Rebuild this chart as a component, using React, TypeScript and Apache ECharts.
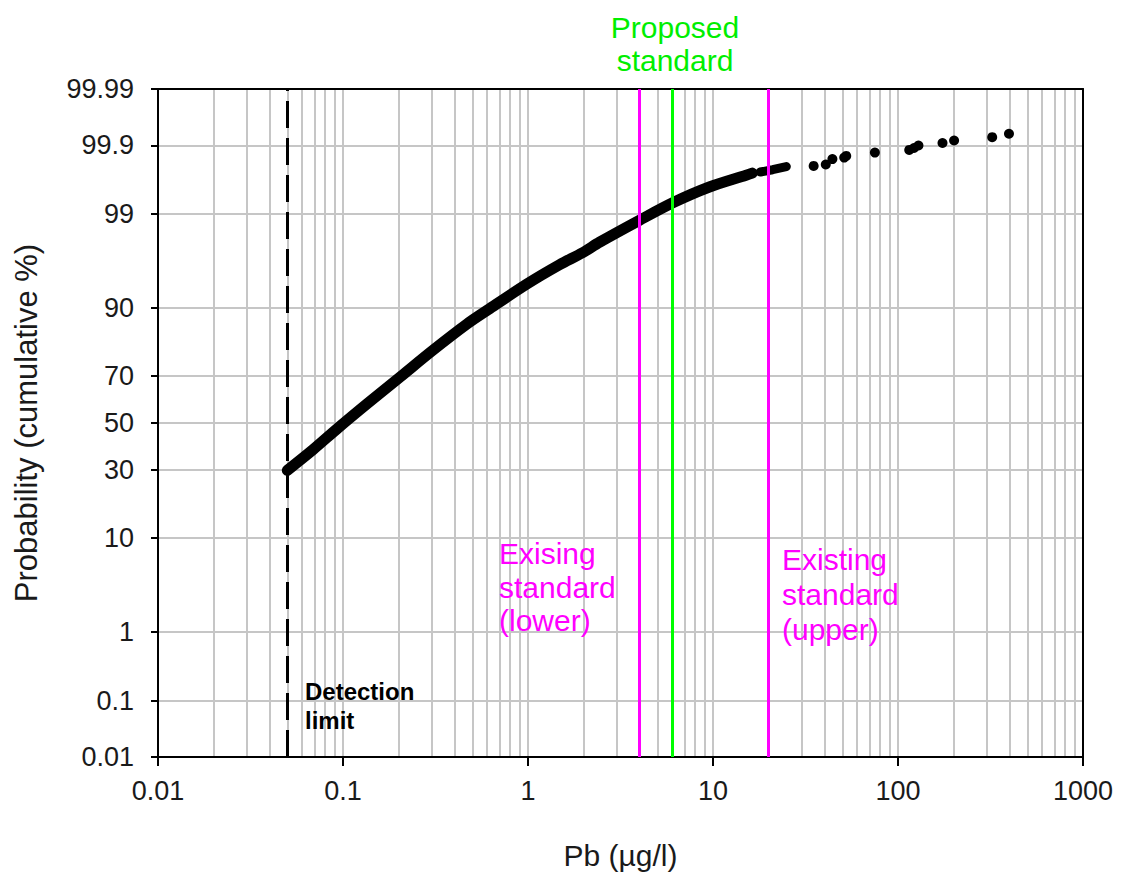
import React, { useEffect, useRef } from "react";
import * as echarts from "echarts";

// Dense part of the cumulative distribution: Pb (µg/l) vs cumulative probability (%)
const curvePb = [0.05, 0.069, 0.094, 0.135, 0.206, 0.306, 0.467, 0.606, 0.984, 1.48, 1.97, 2.44, 4.0, 6.06, 9.56, 15.1, 16.3];
const curveProb = [29.9, 38.4, 47.8, 58.5, 69.9, 79.1, 86.45, 89.6, 93.9, 96.1, 97.1, 97.8, 98.8, 99.29, 99.57, 99.71, 99.73];
// short dense run just after the gap
const curve2Pb = [18.0, 21.0, 24.9];
const curve2Prob = [99.74, 99.76, 99.785];
// sparse high values
const tailPb = [35, 40.7, 44.2, 51.2, 52.5, 75, 115, 122, 129, 174, 201, 323, 398];
const tailProb = [99.79, 99.8, 99.835, 99.844, 99.853, 99.87, 99.882, 99.89, 99.9, 99.909, 99.917, 99.927, 99.936];

// axes
const xMin = 0.01;
const xMax = 1000;
const xTickLabels = [0.01, 0.1, 1, 10, 100, 1000];
const xGridDecades = [0.01, 0.1, 1, 10, 100];
const xGridMultiples = [1, 2, 3, 4, 5, 6, 7, 8, 9];
const yTickLabels = [0.01, 0.1, 1, 10, 30, 50, 70, 90, 99, 99.9, 99.99];

// reference lines
const detectionLimit = 0.05;
const lowerStandard = 4;
const proposedStandard = 6;
const upperStandard = 20;

const FONT = "'Liberation Sans', Arial, sans-serif";

// inverse of the standard normal CDF (probability-paper scale)
function probit(p: number): number {
  const a = [-3.969683028665376e1, 2.209460984245205e2, -2.759285104469687e2, 1.38357751867269e2, -3.066479806614716e1, 2.506628277459239];
  const b = [-5.447609879822406e1, 1.615858368580409e2, -1.556989798598866e2, 6.680131188771972e1, -1.328068155288572e1];
  const c = [-7.784894002430293e-3, -3.223964580411365e-1, -2.400758277161838, -2.549732539343734, 4.374664141464968, 2.938163982698783];
  const d = [7.784695709041462e-3, 3.224671290700398e-1, 2.445134137142996, 3.754408661907416];
  const pl = 0.02425;
  const ph = 1 - pl;
  let q: number;
  let r: number;
  if (p < pl) {
    q = Math.sqrt(-2 * Math.log(p));
    return (((((c[0] * q + c[1]) * q + c[2]) * q + c[3]) * q + c[4]) * q + c[5]) / ((((d[0] * q + d[1]) * q + d[2]) * q + d[3]) * q + 1);
  }
  if (p <= ph) {
    q = p - 0.5;
    r = q * q;
    return ((((((a[0] * r + a[1]) * r + a[2]) * r + a[3]) * r + a[4]) * r + a[5]) * q) / (((((b[0] * r + b[1]) * r + b[2]) * r + b[3]) * r + b[4]) * r + 1);
  }
  q = Math.sqrt(-2 * Math.log(1 - p));
  return -(((((c[0] * q + c[1]) * q + c[2]) * q + c[3]) * q + c[4]) * q + c[5]) / ((((d[0] * q + d[1]) * q + d[2]) * q + d[3]) * q + 1);
}

const z = (pct: number) => probit(pct / 100);

export default function App() {
  const ref = useRef<HTMLDivElement>(null);

  useEffect(() => {
    if (!ref.current) return;
    const chart = echarts.init(ref.current, undefined, { renderer: "svg" });

    const yMin = z(yTickLabels[0]) - 1e-9;
    const yMax = z(yTickLabels[yTickLabels.length - 1]) + 1e-9;
    const yTickZ = yTickLabels.map(z);
    const yGridZ = yTickLabels.slice(1, -1).map(z);
    const xGrid: number[] = [];
    xGridDecades.forEach((dec) =>
      xGridMultiples.forEach((m) => {
        const v = Number((dec * m).toPrecision(6));
        if (v > xMin && v < xMax) xGrid.push(v);
      })
    );

    const yLabel = (v: number) => {
      let best = "";
      let bd = Infinity;
      yTickLabels.forEach((l) => {
        const dd = Math.abs(z(l) - v);
        if (dd < bd) {
          bd = dd;
          best = String(l);
        }
      });
      return best;
    };

    const black = { color: "#000", width: 2 };
    const gridLine = { color: "#c6c6c6", width: 2 };
    const vLine = (x: number, color: string, type: any = "solid", width = 3) => ({
      xAxis: x,
      lineStyle: { color, width, type },
    });

    chart.setOption({
      animation: false,
      backgroundColor: "#fff",
      textStyle: { fontFamily: FONT },
      grid: { left: 158, right: 40, top: 89, bottom: 117, containLabel: false, outerBoundsMode: "none" },
      xAxis: [
        {
          type: "log",
          logBase: 10,
          min: xMin,
          max: xMax,
          position: "bottom",
          name: "Pb (µg/l)",
          nameLocation: "middle",
          nameGap: 83,
          nameTextStyle: { fontSize: 30, color: "#1a1a1a", fontFamily: FONT },
          axisLine: { show: true, onZero: false, lineStyle: black },
          axisTick: { show: true, inside: false, length: 9, customValues: xTickLabels, lineStyle: black },
          axisLabel: {
            customValues: xTickLabels,
            formatter: (v: number) => String(v),
            fontSize: 27,
            color: "#1a1a1a",
            margin: 20,
            fontFamily: FONT,
          },
          splitLine: { show: false },
          minorTick: { show: false },
        },
        {
          type: "log",
          logBase: 10,
          min: xMin,
          max: xMax,
          position: "top",
          axisLine: { show: true, onZero: false, lineStyle: black },
          axisTick: { show: false, customValues: xGrid },
          axisLabel: { show: false },
          splitLine: { show: true, lineStyle: gridLine },
        },
      ],
      yAxis: [
        {
          type: "value",
          min: yMin,
          max: yMax,
          position: "left",
          name: "Probability (cumulative %)",
          nameLocation: "middle",
          nameGap: 116,
          nameTextStyle: { fontSize: 31, color: "#1a1a1a", fontFamily: FONT },
          axisLine: { show: true, onZero: false, lineStyle: black },
          axisTick: { show: true, inside: false, length: 7, customValues: yTickZ, lineStyle: black },
          axisLabel: {
            customValues: yTickZ,
            formatter: yLabel,
            fontSize: 27,
            color: "#1a1a1a",
            margin: 24,
            fontFamily: FONT,
          },
          splitLine: { show: false },
        },
        {
          type: "value",
          min: yMin,
          max: yMax,
          position: "right",
          axisLine: { show: true, onZero: false, lineStyle: black },
          axisTick: { show: false, customValues: yGridZ },
          axisLabel: { show: false },
          splitLine: { show: true, lineStyle: gridLine },
        },
      ],
      series: [
        {
          type: "scatter",
          silent: true,
          data: [],
          markLine: {
            silent: true,
            symbol: ["none", "none"],
            label: { show: false },
            data: [
              vLine(detectionLimit, "#000", [27, 10], 3),
              vLine(lowerStandard, "#ff00ff"),
              vLine(proposedStandard, "#00ff00"),
              vLine(upperStandard, "#ff00ff"),
            ],
          },
        },
        {
          type: "line",
          silent: true,
          symbol: "none",
          showSymbol: false,
          smooth: 0.3,
          data: curvePb.map((x, i) => [x, z(curveProb[i])]),
          lineStyle: { color: "#000", width: 11, cap: "round", join: "round", opacity: 1 },
        },
        {
          type: "line",
          silent: true,
          symbol: "none",
          showSymbol: false,
          data: curve2Pb.map((x, i) => [x, z(curve2Prob[i])]),
          lineStyle: { color: "#000", width: 9, cap: "round", join: "round", opacity: 1 },
        },
        {
          type: "scatter",
          silent: true,
          symbol: "circle",
          symbolSize: 10,
          itemStyle: { color: "#000", opacity: 1 },
          data: tailPb.map((x, i) => [x, z(tailProb[i])]),
        },
      ],
      graphic: [
        {
          type: "text",
          x: 675,
          y: 44,
          z: 100,
          silent: true,
          style: {
            text: "Proposed\nstandard",
            fill: "#00ee00",
            font: `30px ${FONT}`,
            align: "center",
            verticalAlign: "middle",
            lineHeight: 33,
          },
        },
        {
          type: "text",
          x: 499,
          y: 587,
          z: 100,
          silent: true,
          style: {
            text: "Exising\nstandard\n(lower)",
            fill: "#ff00ff",
            font: `30px ${FONT}`,
            align: "left",
            verticalAlign: "middle",
            lineHeight: 33.5,
          },
        },
        {
          type: "text",
          x: 782,
          y: 594,
          z: 100,
          silent: true,
          style: {
            text: "Existing\nstandard\n(upper)",
            fill: "#ff00ff",
            font: `30px ${FONT}`,
            align: "left",
            verticalAlign: "middle",
            lineHeight: 35,
          },
        },
        {
          type: "text",
          x: 305,
          y: 706,
          z: 100,
          silent: true,
          style: {
            text: "Detection\nlimit",
            fill: "#000",
            font: `bold 24px ${FONT}`,
            align: "left",
            verticalAlign: "middle",
            lineHeight: 29,
          },
        },
      ],
    });

    return () => chart.dispose();
  }, []);

  return (
    <div
      ref={ref}
      style={{ position: "fixed", left: 0, top: 0, width: 1123, height: 874, background: "#fff" }}
    />
  );
}
